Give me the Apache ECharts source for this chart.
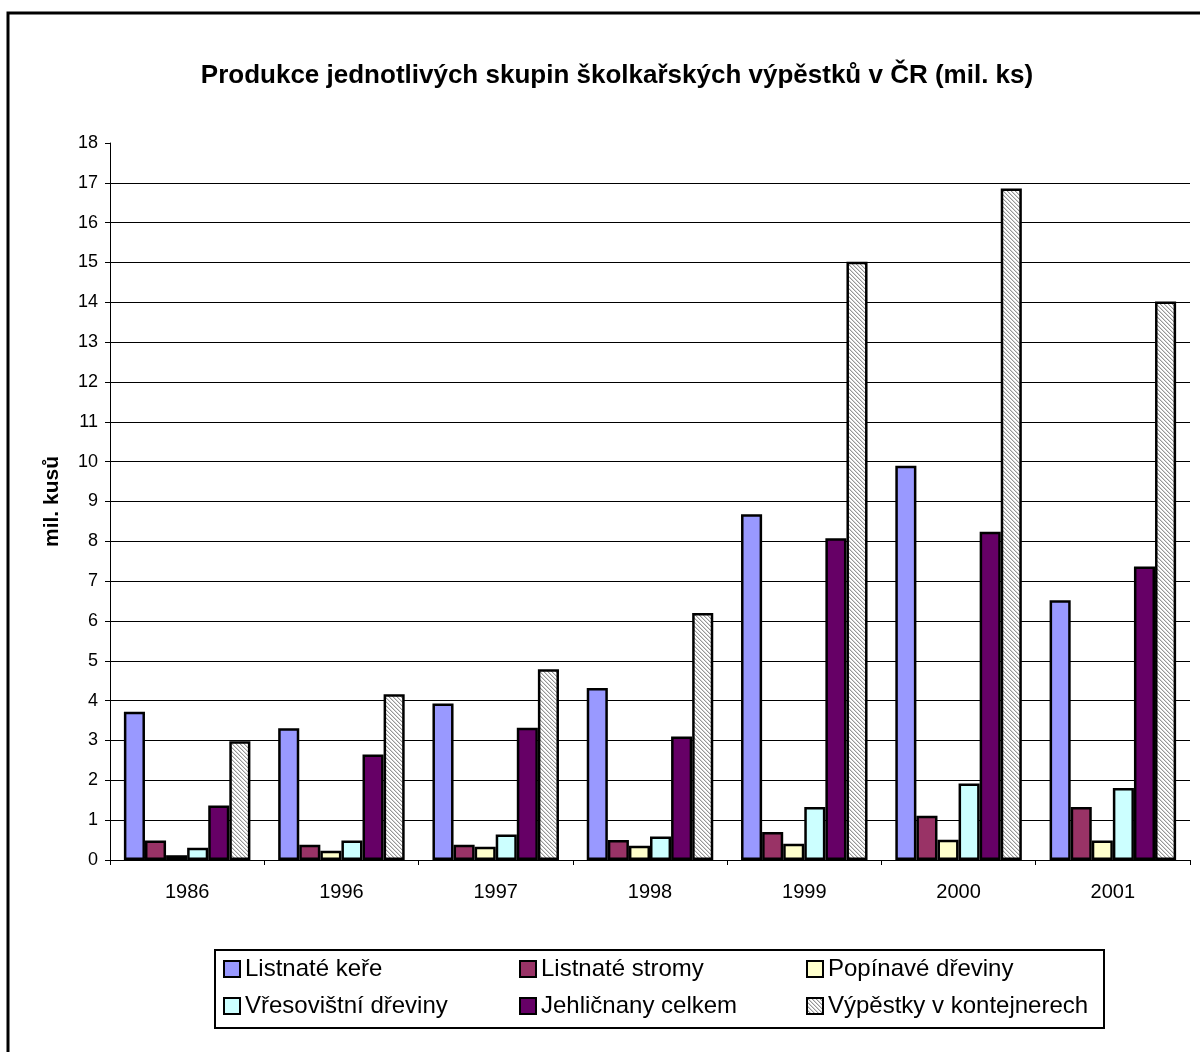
<!DOCTYPE html>
<html>
<head>
<meta charset="utf-8">
<script src="https://cdn.jsdelivr.net/npm/echarts@6/dist/echarts.min.js"></script>
<style>
html,body{margin:0;padding:0;background:#fff;}
#chart{width:1200px;height:1052px;}
</style>
</head>
<body>
<div id="chart"></div>
<script>
// data
var years = ['1986', '1996', '1997', '1998', '1999', '2000', '2001'];
var seriesNames = ['Listnaté keře', 'Listnaté stromy', 'Popínavé dřeviny',
    'Vřesovištní dřeviny', 'Jehličnany celkem', 'Výpěstky v kontejnerech'];
var listnateKere = [3.72, 3.31, 3.93, 4.32, 8.68, 9.9, 6.52];
var listnateStromy = [0.49, 0.38, 0.38, 0.5, 0.7, 1.11, 1.33];
var popinave = [0.12, 0.23, 0.33, 0.36, 0.41, 0.51, 0.49];
var vresovistni = [0.31, 0.49, 0.64, 0.59, 1.33, 1.92, 1.81];
var jehlicnany = [1.37, 2.65, 3.32, 3.1, 8.08, 8.24, 7.37];
var kontejnery = [2.98, 4.16, 4.79, 6.2, 15.02, 16.86, 14.02];

(function(window){
    function hatch(){
        // downward diagonal grey lines on white
        var c = document.createElement('canvas');
        c.width = 8; c.height = 8;
        var ctx = c.getContext('2d');
        var img = ctx.createImageData(8, 8);
        for (var y = 0; y < 8; y++) {
            for (var x = 0; x < 8; x++) {
                var d = ((x - y) % 4 + 4) % 4,
                    v = d === 0 ? 150 : (d === 1 ? 215 : 255),
                    i = (y * 8 + x) * 4;
                img.data[i] = v; img.data[i+1] = v; img.data[i+2] = v; img.data[i+3] = 255;
            }
        }
        ctx.putImageData(img, 0, 0);
        return {image: c, repeat: 'repeat'};
    }

    var colors = ['#9999FF', '#993366', '#FFFFCC', '#CCFFFF', '#660066', hatch()],
        values = [listnateKere, listnateStromy, popinave, vresovistni, jehlicnany, kontejnery],
        font = '"Liberation Sans", Arial, sans-serif';

    var series = seriesNames.map(function(name, i){
        return {
            name: name,
            type: 'bar',
            data: values[i],
            barGap: '0%',
            barCategoryGap: '18%',
            itemStyle: {color: colors[i], borderColor: '#000', borderWidth: 2.5},
            emphasis: {disabled: true}
        };
    });

    function legend(items, left){
        return {
            data: items,
            orient: 'vertical',
            left: left,
            top: 957,
            padding: 0,
            itemGap: 13,
            itemWidth: 16,
            itemHeight: 16,
            icon: 'rect',
            selectedMode: false,
            itemStyle: {borderWidth: 2},
            textStyle: {fontFamily: font, fontSize: 24, color: '#000', lineHeight: 24}
        };
    }

    var chart = echarts.init(document.getElementById('chart'));
    chart.setOption({
        animation: false,
        backgroundColor: '#fff',
        textStyle: {fontFamily: font},
        title: {
            text: 'Produkce jednotlivých skupin školkařských výpěstků v ČR (mil. ks)',
            left: 612,
            textAlign: 'center',
            top: 58,
            textStyle: {fontFamily: font, fontSize: 26, fontWeight: 'bold', color: '#000'}
        },
        graphic: [
            {type: 'rect', shape: {x: 8, y: 13, width: 1200, height: 1060},
             style: {fill: 'none', stroke: '#000', lineWidth: 3}, silent: true},
            {type: 'rect', shape: {x: 215, y: 950, width: 889, height: 78},
             style: {fill: 'none', stroke: '#000', lineWidth: 2}, silent: true}
        ],
        legend: [
            legend([seriesNames[0], seriesNames[3]], 223),
            legend([seriesNames[1], seriesNames[4]], 519),
            legend([seriesNames[2], seriesNames[5]], 806)
        ],
        grid: {left: 110, right: 10, top: 143, bottom: 192},
        xAxis: {
            type: 'category',
            data: years,
            axisLine: {lineStyle: {color: '#000', width: 1}},
            axisTick: {show: true, length: 5, lineStyle: {color: '#000'}},
            axisLabel: {color: '#000', fontSize: 20, margin: 22, fontFamily: font}
        },
        yAxis: {
            type: 'value',
            min: 0,
            max: 18,
            interval: 1,
            name: 'mil. kusů',
            nameLocation: 'middle',
            nameGap: 47,
            nameRotate: 90,
            nameTextStyle: {fontFamily: font, fontSize: 21, fontWeight: 'bold', color: '#000'},
            axisLine: {show: true, lineStyle: {color: '#000', width: 1}},
            axisTick: {show: true, length: 5, lineStyle: {color: '#000'}},
            axisLabel: {color: '#000', fontSize: 18, margin: 12, fontFamily: font},
            splitLine: {show: true, showMaxLine: false, lineStyle: {color: '#000', width: 1}}
        },
        series: series
    });
})(window);
</script>
</body>
</html>
